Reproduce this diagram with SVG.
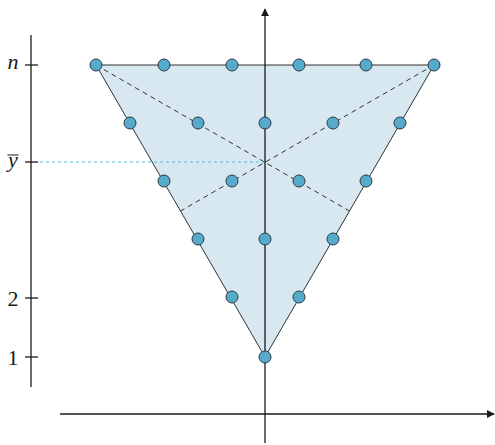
<svg xmlns="http://www.w3.org/2000/svg" width="495" height="445" viewBox="0 0 495 445">
<style>
.ax{stroke:#1a1a1a;stroke-width:1.3;fill:none}
.tri{fill:#d8e8f1;stroke:#333;stroke-width:1}
.med{stroke:#333;stroke-width:1;stroke-dasharray:5,4;fill:none}
.ybar{stroke:#5ab4d6;stroke-width:1;stroke-dasharray:3,3;fill:none}
.pt{fill:#56aacb;stroke:#2a3a44;stroke-width:1}
.lbl{font-family:"Liberation Serif",serif;font-size:22px;fill:#1a1a1a}
</style>
<defs>
<marker id="arr" viewBox="0 0 10 10" refX="9" refY="5" markerWidth="8" markerHeight="8" markerUnits="userSpaceOnUse" orient="auto">
<path d="M0,0 L10,5 L0,10 Z" fill="#1a1a1a"/>
</marker>
</defs>
<g id="triangle">
<polygon class="tri" points="96,65 434,65 265,357"/>
</g>
<g id="connectors">
<line class="med" x1="96" y1="65" x2="349.5" y2="211"/>
<line class="med" x1="434" y1="65" x2="180.5" y2="211"/>
<line class="ybar" x1="40" y1="162" x2="265" y2="162"/>
<line class="ax" x1="265" y1="443" x2="265" y2="9" marker-end="url(#arr)"/>
<line class="ax" x1="60" y1="414" x2="494" y2="414" marker-end="url(#arr)"/>
<line class="ax" x1="31" y1="35" x2="31" y2="387"/>
<line class="ax" x1="25" y1="65" x2="38" y2="65"/>
<line class="ax" x1="25" y1="162" x2="38" y2="162"/>
<line class="ax" x1="25" y1="298" x2="38" y2="298"/>
<line class="ax" x1="25" y1="357" x2="38" y2="357"/>
</g>
<g id="labels">
<text class="lbl" x="13" y="69" text-anchor="middle" font-style="italic">n</text>
<text class="lbl" x="13" y="167" text-anchor="middle" font-style="italic">y</text>
<line x1="7.5" y1="155" x2="18.5" y2="155" stroke="#1a1a1a" stroke-width="1"/>
<text class="lbl" x="13" y="306" text-anchor="middle">2</text>
<text class="lbl" x="13" y="365" text-anchor="middle">1</text>
</g>
<g id="points">
<circle class="pt" cx="96" cy="65" r="6"/>
<circle class="pt" cx="164" cy="65" r="6"/>
<circle class="pt" cx="232" cy="65" r="6"/>
<circle class="pt" cx="299" cy="65" r="6"/>
<circle class="pt" cx="366" cy="65" r="6"/>
<circle class="pt" cx="434" cy="65" r="6"/>
<circle class="pt" cx="130" cy="123" r="6"/>
<circle class="pt" cx="198" cy="123" r="6"/>
<circle class="pt" cx="265" cy="123" r="6"/>
<circle class="pt" cx="333" cy="123" r="6"/>
<circle class="pt" cx="400" cy="123" r="6"/>
<circle class="pt" cx="164" cy="181" r="6"/>
<circle class="pt" cx="232" cy="181" r="6"/>
<circle class="pt" cx="299" cy="181" r="6"/>
<circle class="pt" cx="366" cy="181" r="6"/>
<circle class="pt" cx="198" cy="239" r="6"/>
<circle class="pt" cx="265" cy="239" r="6"/>
<circle class="pt" cx="333" cy="239" r="6"/>
<circle class="pt" cx="232" cy="297" r="6"/>
<circle class="pt" cx="299" cy="297" r="6"/>
<circle class="pt" cx="265" cy="357" r="6"/>
</g>
</svg>
